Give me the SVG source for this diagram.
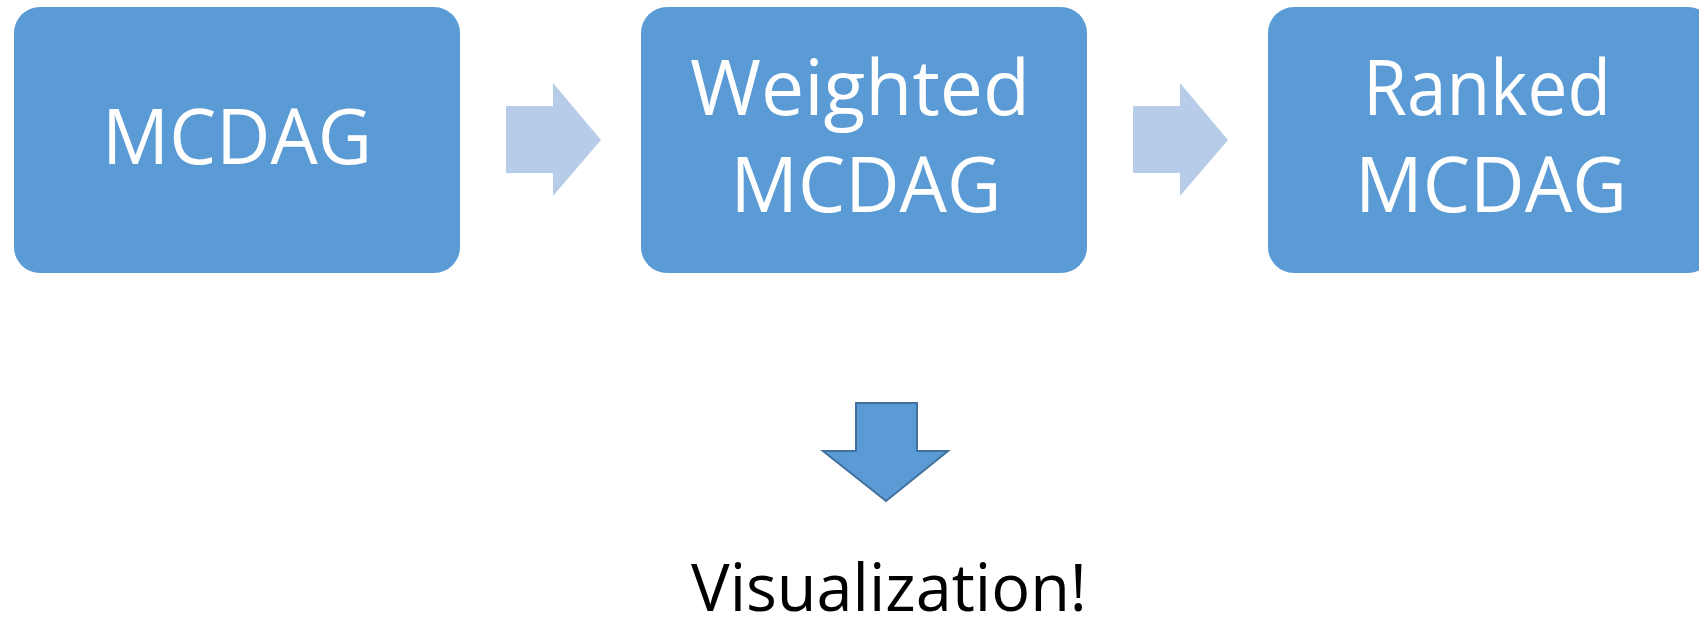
<svg xmlns="http://www.w3.org/2000/svg" width="1699" height="617" viewBox="0 0 1699 617">
<style>
.box{fill:#5B9BD5;}
.lbl{font-family:"Open Sans","Liberation Sans",sans-serif;font-size:77px;fill:#FFFFFF;text-anchor:middle;}
.flow{fill:#B7CCE8;}
.down{fill:#5B9BD5;stroke:#41719C;stroke-width:2;}
.out{font-family:"Open Sans","Liberation Sans",sans-serif;font-size:66px;fill:#000000;text-anchor:middle;}
</style>
<rect width="1699" height="617" fill="#FFFFFF"/>
<g id="connectors">
<polygon class="flow" points="506,106 553,106 553,83 601,140 553,196 553,173 506,173"/>
<polygon class="flow" points="1133,106 1180,106 1180,83 1228,140 1180,196 1180,173 1133,173"/>
<polygon class="down" points="856,403 917,403 917,451 948,451 886,501 823,451 856,451"/>
</g>
<g id="node-mcdag">
<rect class="box" x="14" y="7" width="446" height="266" rx="26" ry="26"/>
<text class="lbl" x="237" y="164" textLength="270" lengthAdjust="spacingAndGlyphs">MCDAG</text>
</g>
<g id="node-weighted">
<rect class="box" x="641" y="7" width="446" height="266" rx="26" ry="26"/>
<text class="lbl" x="860" y="115" textLength="340" lengthAdjust="spacingAndGlyphs">Weighted</text>
<text class="lbl" x="866" y="212" textLength="271" lengthAdjust="spacingAndGlyphs">MCDAG</text>
</g>
<g id="node-ranked">
<rect class="box" x="1268" y="7" width="446" height="266" rx="26" ry="26"/>
<text class="lbl" x="1487" y="115" textLength="248" lengthAdjust="spacingAndGlyphs">Ranked</text>
<text class="lbl" x="1491" y="212" textLength="272" lengthAdjust="spacingAndGlyphs">MCDAG</text>
</g>
<g id="node-visualization">
<text class="out" x="889" y="611" textLength="396" lengthAdjust="spacingAndGlyphs">Visualization!</text>
</g>
</svg>
